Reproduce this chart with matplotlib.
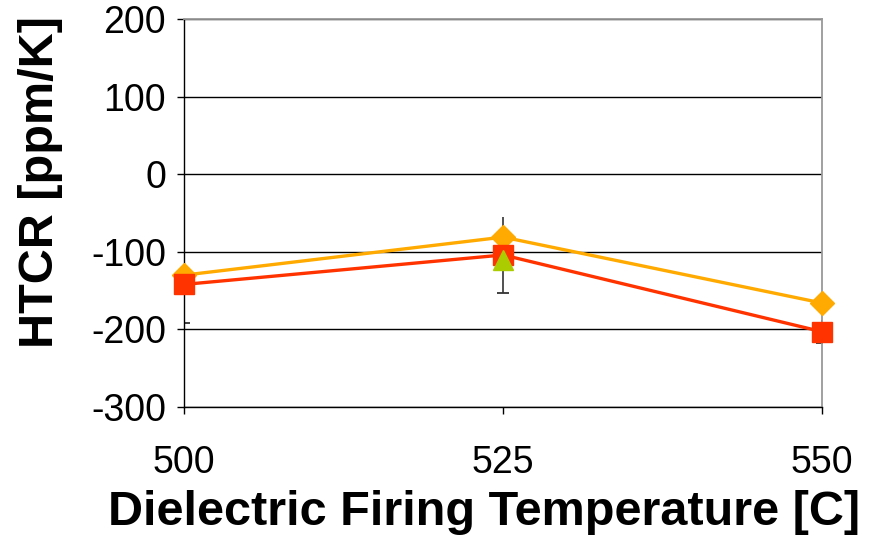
import matplotlib
matplotlib.use("Agg")
import matplotlib.pyplot as plt
import numpy as np

# data
temps = [500, 525, 550]
htcr_orange = [-130, -81, -166]
htcr_red = [-142, -104, -203]
err_red_lo = [50, 49, 15]
err_red_hi = [50, 49, 15]
green_temp = [525]
green_htcr = [-110]

y_ticks = [-300, -200, -100, 0, 100, 200]

plt.rcParams['font.family'] = ['Liberation Sans', 'DejaVu Sans']
plt.rcParams['axes.unicode_minus'] = False

fig = plt.figure(figsize=(8.72, 5.37), dpi=100)
ax = fig.add_axes([0.211, 0.242, 0.732, 0.7225])

# horizontal gridlines
for yv in y_ticks:
    ax.axhline(yv, color='black', lw=1, zorder=1)

red_arr = np.array(htcr_red)
lo = np.array(err_red_lo)
hi = np.array(err_red_hi)
ax.vlines(temps, red_arr - lo, red_arr + hi, color='#333333', lw=1.2, zorder=2)
ax.plot(temps, red_arr - lo, ls='none', marker='_', ms=8, mew=1.3, color='#333333', zorder=2)

ax.plot(temps, htcr_orange, color='#FFAA00', lw=2.4, marker='D', ms=12, zorder=3, clip_on=False)
ax.plot(temps, htcr_red, color='#FF3300', lw=2.4, marker='s', ms=15, zorder=4, clip_on=False)
ax.plot(green_temp, green_htcr, ls='none', color='#AACC00', marker='^', ms=15, zorder=5, clip_on=False)

ax.set_xlim(500, 550)
ax.set_ylim(-300, 200)
ax.set_xticks(temps)
ax.set_yticks(y_ticks)
ax.tick_params(axis='both', direction='out', length=5, width=1, labelsize=27)
ax.tick_params(axis='y', pad=8)
ax.tick_params(axis='x', pad=22)

for side in ['top', 'right']:
    ax.spines[side].set_color('#999999')
    ax.spines[side].set_linewidth(1.3)
for side in ['left', 'bottom']:
    ax.spines[side].set_color('black')
    ax.spines[side].set_linewidth(1)

fig.text(0.555, 0.0223, 'Dielectric Firing Temperature [C]', fontsize=35, fontweight='bold',
         ha='center', va='baseline')
fig.text(0.047, 0.661, 'HTCR [ppm/K]', fontsize=35, fontweight='bold',
         rotation=90, ha='center', va='center')

fig.savefig('out.png', dpi=100)
